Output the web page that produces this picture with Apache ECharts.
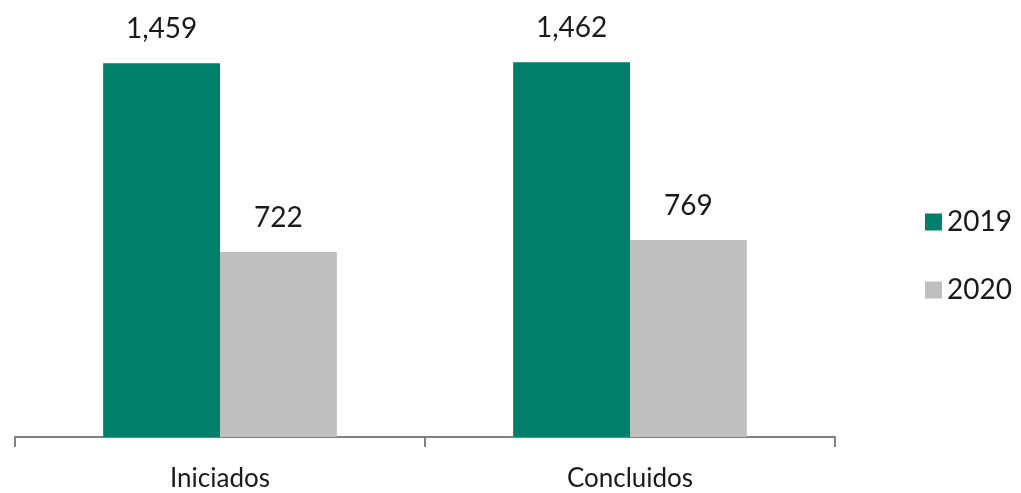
<!DOCTYPE html>
<html>
<head>
<meta charset="utf-8">
<script src="https://cdn.jsdelivr.net/npm/echarts@6/dist/echarts.min.js"></script>
<style>html,body{margin:0;padding:0;background:#fff;}#c{width:1021px;height:493px;}</style>
</head>
<body>
<div id="c"></div>
<script>
const categories = ["Iniciados", "Concluidos"];
const seriesNames = ["2019", "2020"];
const values2019 = [1459, 1462];
const values2020 = [722, 769];

const chart = echarts.init(document.getElementById('c'));
const font = "Lato, 'Open Sans', sans-serif";
const labelFmt = p => p.value.toLocaleString('en-US');
chart.setOption({
  animation: false,
  textStyle: { fontFamily: font },
  grid: { left: 15, right: 186, top: 27, bottom: 56 },
  legend: {
    orient: 'vertical', left: 920, top: 203,
    itemWidth: 17, itemHeight: 17, itemGap: 40,
    icon: 'rect',
    textStyle: { fontSize: 28, color: '#1a1a1a', fontFamily: font, padding: [0,0,0,0] },
    data: seriesNames
  },
  xAxis: {
    type: 'category', data: categories,
    axisLine: { lineStyle: { color: '#808080', width: 2 } },
    axisTick: { show: true, length: 10, lineStyle: { color: '#808080', width: 2 } },
    axisLabel: { fontSize: 26, color: '#1a1a1a', margin: 29, fontFamily: font }
  },
  yAxis: { type: 'value', min: 0, max: 1600, show: false, splitLine: { show: false } },
  series: [
    { name: seriesNames[0], type: 'bar', data: values2019, barGap: '0%', barCategoryGap: '43%',
      itemStyle: { color: '#00806B' },
      label: { show: true, position: 'top', distance: 20, fontSize: 28, color: '#1a1a1a', fontFamily: font, formatter: labelFmt } },
    { name: seriesNames[1], type: 'bar', data: values2020, barGap: '0%', barCategoryGap: '43%',
      itemStyle: { color: '#BFBFBF' },
      label: { show: true, position: 'top', distance: 20, fontSize: 28, color: '#1a1a1a', fontFamily: font, formatter: labelFmt } }
  ]
});
</script>
</body>
</html>
